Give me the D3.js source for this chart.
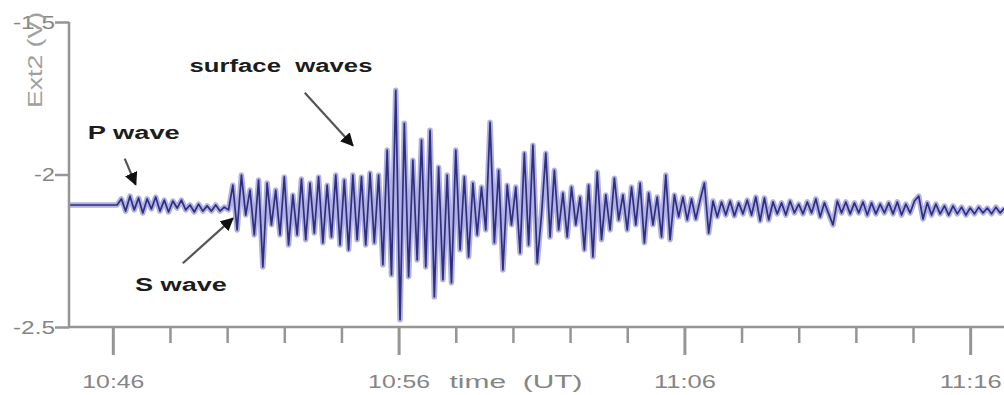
<!DOCTYPE html>
<html>
<head>
<meta charset="utf-8">
<script src="https://cdn.jsdelivr.net/npm/d3@7"></script>
<style>
  html, body { margin: 0; padding: 0; background: #ffffff; }
  svg { display: block; }
  text { font-family: "Liberation Sans", Arial, sans-serif; }
</style>
</head>
<body>
<svg id="chart" width="1004" height="395"></svg>
<script>
// Seismogram on channel Ext2, sampled every 9 s from 10:44:30 UT
const traceStart = "10:44:30";
const sampleStepSeconds = 9;
const ext2Volts = [
  // quiet before the first arrival
  -2.100, -2.100, -2.100, -2.100, -2.100, -2.100, -2.100, -2.100, -2.100, -2.100, -2.100, -2.100,
  // P wave
  -2.080, -2.120, -2.071, -2.116, -2.077, -2.126, -2.080, -2.113, -2.074, -2.120, -2.084, -2.123, -2.087,
  -2.110, -2.084, -2.116, -2.100, -2.123, -2.097, -2.120, -2.103, -2.120, -2.100, -2.120, -2.107, -2.116,
  // S wave
  -2.035, -2.182, -2.002, -2.133, -2.051, -2.198, -2.018, -2.303, -2.028, -2.165, -2.051, -2.198,
  -2.008, -2.231, -2.067, -2.198, -2.015, -2.214, -2.028, -2.192, -2.008, -2.224, -2.035, -2.205,
  -2.002, -2.231, -2.018, -2.247, -2.002, -2.214, -2.008, -2.231, -1.995, -2.224,
  // surface waves
  -2.002, -2.296, -1.920, -2.329, -1.724, -2.476, -1.832, -2.335, -1.953, -2.280, -1.887, -2.303,
  -1.855, -2.401, -1.976, -2.345, -2.002, -2.355, -1.920, -2.247, -2.008, -2.270, -2.028, -2.198,
  -2.041, -2.182, -1.829, -2.224, -1.986, -2.313, -2.035,
  -2.165, -2.041, -2.257, -1.930, -2.231, -1.904, -2.290, -2.133, -1.930, -2.205, -1.986, -2.182,
  -2.061, -2.205, -2.041, -2.165, -2.074, -2.247, -2.035, -2.270, -1.992, -2.214, -2.067, -2.182,
  -2.012, -2.149, -2.067, -2.182, -2.041, -2.165, -2.028, -2.224, -2.061, -2.165, -2.074, -2.205,
  -2.002, -2.214, -2.067, -2.139, -2.074, -2.149,
  // coda
  -2.080, -2.146, -2.084, -2.028, -2.192, -2.087, -2.139, -2.090, -2.133, -2.087, -2.136, -2.093,
  -2.129, -2.084, -2.133, -2.074, -2.152, -2.077, -2.149, -2.090, -2.129, -2.093, -2.133, -2.087,
  -2.126, -2.097, -2.129, -2.090, -2.126, -2.080, -2.139, -2.093, -2.129, -2.165, -2.087, -2.126,
  -2.090, -2.129, -2.093, -2.126, -2.090, -2.133, -2.093, -2.129, -2.097, -2.126, -2.093, -2.129,
  -2.090, -2.133, -2.097, -2.126, -2.087, -2.071, -2.146, -2.093, -2.133, -2.097, -2.129, -2.103,
  -2.133, -2.103, -2.129, -2.107, -2.133, -2.110, -2.129, -2.107, -2.126, -2.110, -2.129, -2.107,
  -2.126, -2.110
];

// Axis extents and ticks
const timeExtent = ["10:44:28", "11:17:11"];
const voltExtent = [-1.5, -2.5];
const yTickValues = [-1.5, -2, -2.5];
const yTickLabels = ["-1.5", "-2", "-2.5"];
const majorTickLabels = ["10:46", "10:56", "11:06", "11:16"];
const yAxisTitle = "Ext2 (V)";
const xAxisTitle = "time  (UT)";

// Phase annotations: label anchor, arrow tail and arrow tip in (time, volts)
const phaseLabels = ["P wave", "S wave", "surface  waves"];
const phaseLabelAt = [["10:46:44", -1.882], ["10:48:23", -2.382], ["10:51:53", -1.663]];
const phaseArrowTail = [["10:46:25", -1.948], ["10:48:27", -2.291], ["10:52:43", -1.732]];
const phaseArrowTip = [["10:46:48", -2.033], ["10:50:12", -2.144], ["10:54:24", -1.905]];

const parseHMS = d3.timeParse("%H:%M:%S");
const parseHM = d3.timeParse("%H:%M");

const svg = d3.select("#chart");
const plot = { left: 69, right: 1004, top: 22, bottom: 327 };

const x = d3.scaleTime()
  .domain(timeExtent.map(parseHMS))
  .range([plot.left, plot.right]);
const y = d3.scaleLinear()
  .domain(voltExtent)
  .range([plot.top, plot.bottom]);

const t0 = parseHMS(traceStart);
const samples = ext2Volts.map((v, i) => ({
  t: new Date(t0.getTime() + i * sampleStepSeconds * 1000),
  v
}));

const axisColor = "#959595";
const labelColor = "#858585";

// Trace: soft lavender halo beneath a navy stroke
const line = d3.line().x(d => x(d.t)).y(d => y(d.v));
svg.append("path")
  .datum(samples)
  .attr("d", line)
  .attr("fill", "none")
  .attr("stroke", "#9d9ddc")
  .attr("stroke-width", 5.5)
  .attr("stroke-linejoin", "round")
  .attr("opacity", 0.8);
svg.append("path")
  .datum(samples)
  .attr("d", line)
  .attr("fill", "none")
  .attr("stroke", "#2f2f80")
  .attr("stroke-width", 1.7)
  .attr("stroke-linejoin", "round");

// X axis: minor ticks every 2 minutes, labelled ticks every 10 minutes
const majorTimes = majorTickLabels.map(parseHM);
const minorTimes = d3.timeMinute.every(2).range(x.domain()[0], x.domain()[1])
  .filter(t => !majorTimes.some(m => +m === +t));

const xMinor = svg.append("g")
  .attr("transform", `translate(0,${plot.bottom})`)
  .call(d3.axisBottom(x).tickValues(minorTimes).tickSize(16).tickSizeOuter(0).tickFormat(""));
xMinor.select(".domain").remove();
xMinor.selectAll(".tick line").attr("stroke", axisColor).attr("stroke-width", 2.5);

const xMajor = svg.append("g")
  .attr("transform", `translate(0,${plot.bottom})`)
  .call(d3.axisBottom(x).tickValues(majorTimes).tickSize(28).tickSizeOuter(0)
    .tickFormat((d, i) => majorTickLabels[i]));
xMajor.select(".domain").remove();
xMajor.selectAll(".tick line").attr("stroke", axisColor).attr("stroke-width", 3);
xMajor.selectAll(".tick text")
  .attr("y", 61).attr("dy", 0)
  .attr("fill", labelColor)
  .attr("font-size", 18)
  .attr("textLength", 62)
  .attr("lengthAdjust", "spacingAndGlyphs");

// Y axis
const yAxis = svg.append("g")
  .attr("transform", `translate(${plot.left},0)`)
  .call(d3.axisLeft(y).tickValues(yTickValues).tickSize(14).tickSizeOuter(0)
    .tickFormat((d, i) => yTickLabels[i]));
yAxis.select(".domain").remove();
yAxis.selectAll(".tick line").attr("stroke", axisColor).attr("stroke-width", 2.5);
yAxis.selectAll(".tick text")
  .attr("x", -14).attr("dy", "0.36em")
  .attr("fill", labelColor)
  .attr("font-size", 18)
  .attr("textLength", (d, i) => yTickLabels[i].length * 10.5)
  .attr("lengthAdjust", "spacingAndGlyphs");

// Axis frame lines
svg.append("line")
  .attr("x1", plot.left).attr("x2", plot.left)
  .attr("y1", plot.top).attr("y2", plot.bottom)
  .attr("stroke", axisColor).attr("stroke-width", 2.5);
svg.append("line")
  .attr("x1", plot.left).attr("x2", plot.right)
  .attr("y1", plot.bottom).attr("y2", plot.bottom)
  .attr("stroke", axisColor).attr("stroke-width", 2.5);

// Axis titles
svg.append("text")
  .attr("transform", "translate(42,108) rotate(-90)")
  .attr("text-anchor", "start")
  .attr("fill", "#a0a0a0")
  .attr("font-size", 20)
  .attr("textLength", 96)
  .attr("lengthAdjust", "spacingAndGlyphs")
  .text(yAxisTitle);
svg.append("text")
  .attr("x", 516).attr("y", 388)
  .attr("text-anchor", "middle")
  .attr("fill", labelColor)
  .attr("font-size", 18)
  .style("white-space", "pre")
  .attr("textLength", 133)
  .attr("lengthAdjust", "spacingAndGlyphs")
  .text(xAxisTitle);

// Phase arrows and labels
svg.append("defs").append("marker")
  .attr("id", "arrowhead")
  .attr("viewBox", "0 0 10 10")
  .attr("refX", 9).attr("refY", 5)
  .attr("markerWidth", 6).attr("markerHeight", 6)
  .attr("markerUnits", "strokeWidth")
  .attr("orient", "auto")
  .append("path")
  .attr("d", "M0,0 L10,5 L0,10 Z")
  .attr("fill", "#111");

const at = p => [x(parseHMS(p[0])), y(p[1])];
const labelLengths = [92, 92, 183];

phaseLabels.forEach((label, i) => {
  const [x1, y1] = at(phaseArrowTail[i]);
  const [x2, y2] = at(phaseArrowTip[i]);
  svg.append("line")
    .attr("x1", x1).attr("y1", y1).attr("x2", x2).attr("y2", y2)
    .attr("stroke", "#555")
    .attr("stroke-width", 2.2)
    .attr("marker-end", "url(#arrowhead)");
  const [tx, ty] = at(phaseLabelAt[i]);
  svg.append("text")
    .attr("x", tx).attr("y", ty)
    .attr("text-anchor", "middle")
    .attr("fill", "#1c1c1c")
    .attr("font-size", 18)
    .attr("font-weight", "bold")
    .style("white-space", "pre")
    .attr("textLength", labelLengths[i])
    .attr("lengthAdjust", "spacingAndGlyphs")
    .text(label);
});
</script>
</body>
</html>
